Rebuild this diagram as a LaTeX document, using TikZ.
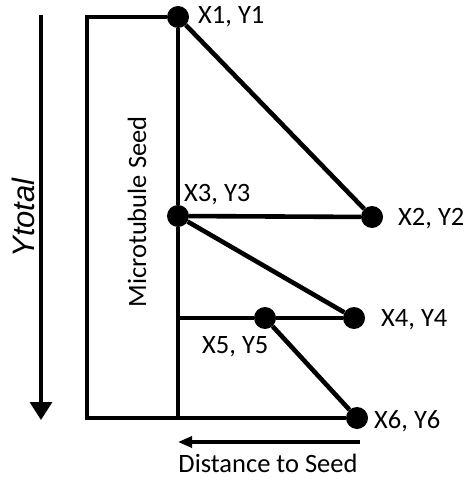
\documentclass[tikz,border=0pt]{standalone}
\usepackage{fontspec}
\setmainfont{Carlito}
\newfontfamily\arialfont{Liberation Sans}
\usetikzlibrary{arrows.meta}
\begin{document}
\begin{tikzpicture}[x=1pt,y=-1pt,
  dot/.style={circle,fill=black,inner sep=0pt,minimum size=22pt},
  seg/.style={line width=4.6pt},
  lbl/.style={font=\fontsize{26.5}{30}\selectfont,inner sep=0pt},
  axis/.style={line width=3.3pt}]
\useasboundingbox (0,0) rectangle (469,478);
% named points
\coordinate (tl) at (87,17);
\coordinate (bl) at (87,418);
\coordinate (bm) at (178,418);
\coordinate (j) at (178,318);
\node[dot] (p1) at (178,17) {};
\node[dot] (p2) at (372,217) {};
\node[dot] (p3) at (178,216) {};
\node[dot] (p4) at (354,318) {};
\node[dot] (p5) at (265,318) {};
\node[dot] (p6) at (357,418) {};
% structure
\draw[seg] (p1) -- (tl) -- (bl) -- (p6);
\draw[seg] (p1) -- (p3);
\draw[seg] (p3) -- (bm);
\draw[seg] (p1) -- (p2);
\draw[seg] (p3) -- (p2);
\draw[seg] (p3) -- (p4);
\draw[seg] (j) -- (p5);
\draw[seg] (p5) -- (p4);
\draw[seg] (p5) -- (p6);
% labels
\node[lbl,anchor=west] (l1) at (198,17) {X1, Y1};
\node[lbl,anchor=west] (l3) at (184,195) {X3, Y3};
\node[lbl,anchor=west] (l2) at (398,219) {X2, Y2};
\node[lbl,anchor=west] (l4) at (381,320) {X4, Y4};
\node[lbl,anchor=west] (l5) at (202,347) {X5, Y5};
\node[lbl,anchor=west] (l6) at (374,421) {X6, Y6};
\node[lbl,rotate=90] (ms) at (137,212) {Microtubule Seed};
% axes
\coordinate (ya) at (41,15);
\coordinate (yb) at (41,420);
\draw[axis,-{Triangle[width=22pt,length=18pt]}] (ya) -- (yb);
\node[inner sep=0pt,rotate=90,font=\arialfont\itshape\fontsize{31}{34}\selectfont] (yt) at (23,218) {Ytotal};
\coordinate (da) at (360,442);
\coordinate (db) at (178,442);
\draw[axis,-{Triangle[width=11pt,length=14pt]}] (da) -- (db);
\node[lbl] (dt) at (268,463) {Distance to Seed};
\end{tikzpicture}
\end{document}
